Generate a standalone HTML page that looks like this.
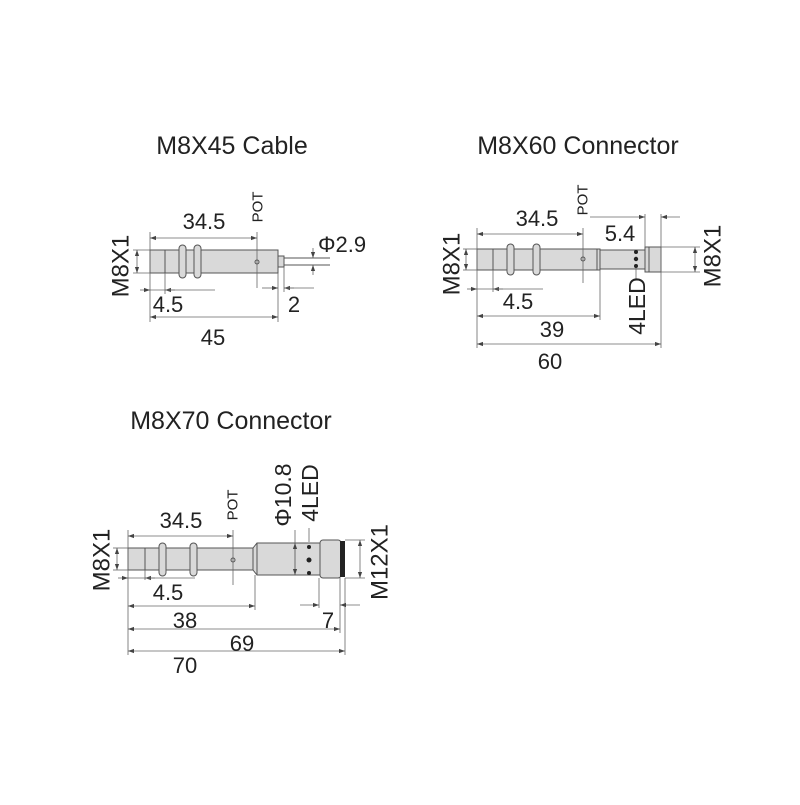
<!DOCTYPE html>
<html><head><meta charset="utf-8"><style>
html,body{margin:0;padding:0;background:#fff}
svg text{font-family:"Liberation Sans",sans-serif;fill:#222}
</style></head><body>
<svg width="800" height="800" viewBox="0 0 800 800" xmlns="http://www.w3.org/2000/svg">
<defs>
<marker id="a" viewBox="0 0 10 10" refX="10" refY="5" markerWidth="8" markerHeight="6" orient="auto-start-reverse" markerUnits="userSpaceOnUse"><path d="M0,1.5 L10,5 L0,8.5z" fill="#444"/></marker>
</defs>
<g stroke="#555" stroke-width="1" fill="none">
<!-- ===== Diagram 1 ===== -->
<rect x="150" y="250" width="128" height="23" fill="#d9d9d9"/>
<line x1="165" y1="250" x2="165" y2="273"/>
<rect x="179" y="245" width="7" height="33" rx="3.5" fill="#d9d9d9"/>
<rect x="194" y="245" width="7" height="33" rx="3.5" fill="#d9d9d9"/>
<rect x="278" y="256" width="6" height="11" fill="#d9d9d9"/>
<line x1="284" y1="258" x2="330" y2="258"/><line x1="284" y1="265" x2="330" y2="265"/>
<circle cx="257" cy="262" r="2"/>
<g stroke="#666" stroke-width="0.8">
<line x1="150" y1="232" x2="150" y2="322"/><line x1="257" y1="232" x2="257" y2="288"/>
<line x1="278" y1="273" x2="278" y2="322"/><line x1="284" y1="267" x2="284" y2="292"/>
<line x1="165" y1="273" x2="165" y2="294"/>
<line x1="133" y1="250" x2="150" y2="250"/><line x1="133" y1="273" x2="150" y2="273"/>
<line x1="137" y1="250" x2="137" y2="273" marker-start="url(#a)" marker-end="url(#a)"/>
<line x1="150" y1="238" x2="257" y2="238" marker-start="url(#a)" marker-end="url(#a)"/>
<line x1="140" y1="290" x2="150" y2="290" marker-end="url(#a)"/><line x1="175" y1="290" x2="165" y2="290" marker-end="url(#a)"/><line x1="150" y1="290" x2="215" y2="290"/>
<line x1="262" y1="288" x2="278" y2="288" marker-end="url(#a)"/><line x1="294" y1="288" x2="284" y2="288" marker-end="url(#a)"/><line x1="284" y1="288" x2="314" y2="288"/>
<line x1="150" y1="317" x2="278" y2="317" marker-start="url(#a)" marker-end="url(#a)"/>
<line x1="313" y1="248" x2="313" y2="258" marker-end="url(#a)"/><line x1="313" y1="275" x2="313" y2="265" marker-end="url(#a)"/>
</g>
<!-- ===== Diagram 2 ===== -->
<rect x="477" y="249" width="123" height="21" fill="#d9d9d9"/>
<line x1="493" y1="249" x2="493" y2="270"/><line x1="597" y1="249" x2="597" y2="270"/>
<rect x="507" y="244" width="7" height="31" rx="3.5" fill="#d9d9d9"/>
<rect x="533" y="244" width="7" height="31" rx="3.5" fill="#d9d9d9"/>
<rect x="600" y="250" width="45" height="19" fill="#d9d9d9"/>
<rect x="645" y="247" width="16" height="25" fill="#d9d9d9"/>
<line x1="649" y1="247" x2="649" y2="272"/>
<circle cx="583" cy="259" r="2"/>
<g fill="#222" stroke="none"><circle cx="636" cy="252" r="2"/><circle cx="636" cy="259" r="2.2"/><circle cx="636" cy="266" r="2"/></g>
<g stroke="#666" stroke-width="0.8">
<line x1="477" y1="228" x2="477" y2="348"/><line x1="583" y1="228" x2="583" y2="283"/>
<line x1="493" y1="270" x2="493" y2="292"/><line x1="600" y1="270" x2="600" y2="320"/>
<line x1="661" y1="214" x2="661" y2="348"/><line x1="645" y1="214" x2="645" y2="247"/>
<line x1="463" y1="249" x2="477" y2="249"/><line x1="463" y1="270" x2="477" y2="270"/>
<line x1="466" y1="249" x2="466" y2="270" marker-start="url(#a)" marker-end="url(#a)"/>
<line x1="477" y1="234" x2="583" y2="234" marker-start="url(#a)" marker-end="url(#a)"/>
<line x1="467" y1="289" x2="477" y2="289" marker-end="url(#a)"/><line x1="503" y1="289" x2="493" y2="289" marker-end="url(#a)"/><line x1="477" y1="289" x2="543" y2="289"/>
<line x1="477" y1="316" x2="600" y2="316" marker-start="url(#a)" marker-end="url(#a)"/>
<line x1="477" y1="344" x2="661" y2="344" marker-start="url(#a)" marker-end="url(#a)"/>
<line x1="590" y1="217" x2="645" y2="217" marker-end="url(#a)"/><line x1="680" y1="217" x2="661" y2="217" marker-end="url(#a)"/>
<line x1="661" y1="247" x2="700" y2="247"/><line x1="661" y1="272" x2="700" y2="272"/>
<line x1="695" y1="247" x2="695" y2="272" marker-start="url(#a)" marker-end="url(#a)"/>
<line x1="636" y1="268" x2="636" y2="280"/>
</g>
<!-- ===== Diagram 3 ===== -->
<rect x="128" y="548" width="125" height="22" fill="#d9d9d9"/>
<line x1="145" y1="548" x2="145" y2="570"/>
<rect x="159" y="543" width="7" height="33" rx="3.5" fill="#d9d9d9"/>
<rect x="190" y="543" width="7" height="33" rx="3.5" fill="#d9d9d9"/>
<path d="M253,548 L257,543 L320,543 L320,575 L257,575 L253,570 Z" fill="#d9d9d9"/>
<line x1="257" y1="543" x2="257" y2="575"/>
<rect x="320" y="540" width="21" height="38" rx="3" fill="#d9d9d9"/>
<rect x="340" y="541" width="5" height="36" fill="#222" stroke="none"/>
<circle cx="233" cy="560" r="2"/>
<g fill="#222" stroke="none"><circle cx="309" cy="547" r="2"/><circle cx="309" cy="560" r="2.5"/><circle cx="309" cy="573" r="2"/></g>
<g stroke="#666" stroke-width="0.8">
<line x1="128" y1="530" x2="128" y2="655"/><line x1="233" y1="530" x2="233" y2="585"/>
<line x1="145" y1="570" x2="145" y2="580"/><line x1="255" y1="575" x2="255" y2="610"/>
<line x1="319" y1="578" x2="319" y2="608"/><line x1="340" y1="578" x2="340" y2="633"/><line x1="345" y1="578" x2="345" y2="655"/>
<line x1="295" y1="530" x2="295" y2="575"/><line x1="309" y1="528" x2="309" y2="542"/>
<line x1="113" y1="548" x2="128" y2="548"/><line x1="113" y1="570" x2="128" y2="570"/>
<line x1="117" y1="548" x2="117" y2="570" marker-start="url(#a)" marker-end="url(#a)"/>
<line x1="128" y1="536" x2="233" y2="536" marker-start="url(#a)" marker-end="url(#a)"/>
<line x1="118" y1="578" x2="128" y2="578" marker-end="url(#a)"/><line x1="155" y1="578" x2="145" y2="578" marker-end="url(#a)"/><line x1="128" y1="578" x2="195" y2="578"/>
<line x1="128" y1="606" x2="255" y2="606" marker-start="url(#a)" marker-end="url(#a)"/>
<line x1="300" y1="605" x2="319" y2="605" marker-end="url(#a)"/><line x1="360" y1="605" x2="340" y2="605" marker-end="url(#a)"/>
<line x1="128" y1="629" x2="340" y2="629" marker-start="url(#a)" marker-end="url(#a)"/>
<line x1="128" y1="651" x2="345" y2="651" marker-start="url(#a)" marker-end="url(#a)"/>
<line x1="295" y1="543" x2="295" y2="575" marker-start="url(#a)" marker-end="url(#a)"/>
<line x1="345" y1="540" x2="365" y2="540"/><line x1="345" y1="578" x2="365" y2="578"/>
<line x1="360" y1="540" x2="360" y2="578" marker-start="url(#a)" marker-end="url(#a)"/>
</g>
</g>
<!-- Text -->
<text x="232" y="154" font-size="25" text-anchor="middle">M8X45 Cable</text>
<text x="204" y="229" font-size="22" text-anchor="middle">34.5</text>
<text x="258" y="207" font-size="15" text-anchor="middle" transform="rotate(-90 258 207)" dominant-baseline="central">POT</text>
<text x="121" y="266" font-size="24" text-anchor="middle" transform="rotate(-90 121 266)" dominant-baseline="central">M8X1</text>
<text x="168" y="312" font-size="22" text-anchor="middle">4.5</text>
<text x="294" y="312" font-size="22" text-anchor="middle">2</text>
<text x="213" y="345" font-size="22" text-anchor="middle">45</text>
<text x="318" y="252" font-size="22">Φ2.9</text>

<text x="578" y="154" font-size="25" text-anchor="middle">M8X60 Connector</text>
<text x="537" y="226" font-size="22" text-anchor="middle">34.5</text>
<text x="583" y="200" font-size="15" text-anchor="middle" transform="rotate(-90 583 200)" dominant-baseline="central">POT</text>
<text x="620" y="241" font-size="22" text-anchor="middle">5.4</text>
<text x="452" y="264" font-size="24" text-anchor="middle" transform="rotate(-90 452 264)" dominant-baseline="central">M8X1</text>
<text x="713" y="256" font-size="24" text-anchor="middle" transform="rotate(-90 713 256)" dominant-baseline="central">M8X1</text>
<text x="518" y="309" font-size="22" text-anchor="middle">4.5</text>
<text x="552" y="337" font-size="22" text-anchor="middle">39</text>
<text x="550" y="369" font-size="22" text-anchor="middle">60</text>
<text x="637" y="306" font-size="23" text-anchor="middle" transform="rotate(-90 637 306)" dominant-baseline="central">4LED</text>

<text x="231" y="429" font-size="25" text-anchor="middle">M8X70 Connector</text>
<text x="181" y="528" font-size="22" text-anchor="middle">34.5</text>
<text x="233" y="505" font-size="15" text-anchor="middle" transform="rotate(-90 233 505)" dominant-baseline="central">POT</text>
<text x="102" y="560" font-size="24" text-anchor="middle" transform="rotate(-90 102 560)" dominant-baseline="central">M8X1</text>
<text x="168" y="600" font-size="22" text-anchor="middle">4.5</text>
<text x="185" y="628" font-size="22" text-anchor="middle">38</text>
<text x="328" y="628" font-size="22" text-anchor="middle">7</text>
<text x="242" y="651" font-size="22" text-anchor="middle">69</text>
<text x="185" y="673" font-size="22" text-anchor="middle">70</text>
<text x="283" y="495" font-size="23" text-anchor="middle" transform="rotate(-90 283 495)" dominant-baseline="central">Φ10.8</text>
<text x="310" y="493" font-size="23" text-anchor="middle" transform="rotate(-90 310 493)" dominant-baseline="central">4LED</text>
<text x="380" y="562" font-size="24" text-anchor="middle" transform="rotate(-90 380 562)" dominant-baseline="central">M12X1</text>
</svg>
</body></html>
